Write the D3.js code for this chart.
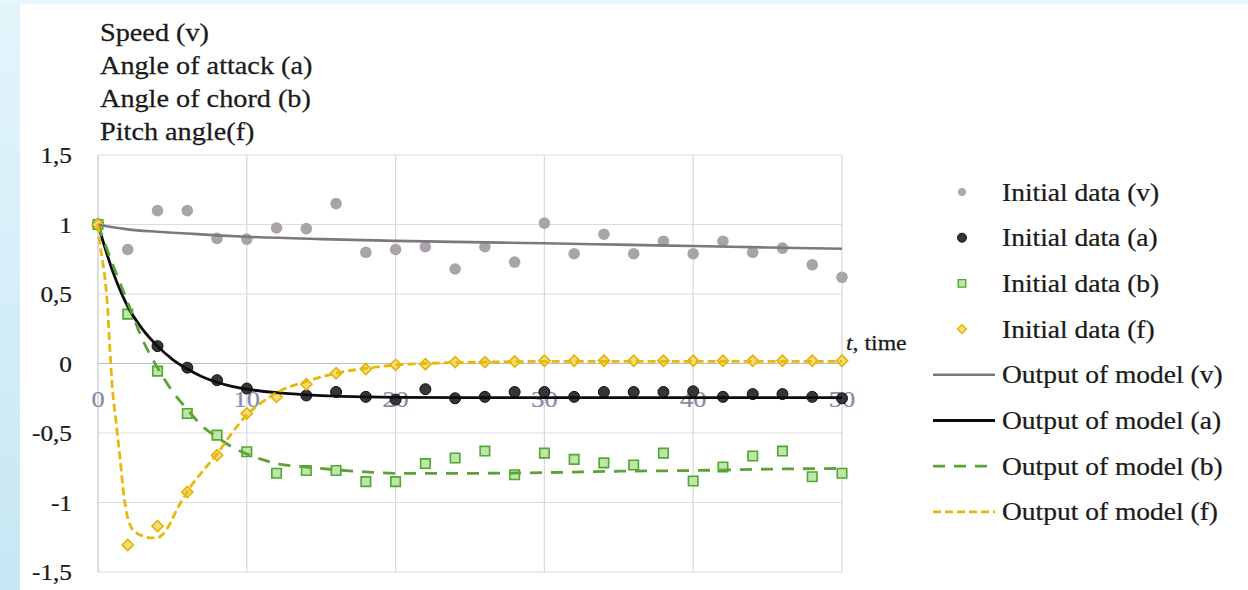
<!DOCTYPE html>
<html>
<head>
<meta charset="utf-8">
<script src="https://cdn.jsdelivr.net/npm/d3@7"></script>
<style>
  html, body { margin: 0; padding: 0; background: #ffffff; }
  svg { display: block; }
</style>
</head>
<body>
<svg id="chart" width="1248" height="590"></svg>
<script>
// ---- measured series (time step 2) ----
const times = [0, 2, 4, 6, 8, 10, 12, 14, 16, 18, 20, 22, 24, 26, 28, 30, 32, 34, 36, 38, 40, 42, 44, 46, 48, 50];

const dataV = [1.0, 0.82, 1.10, 1.10, 0.90, 0.895, 0.975, 0.97, 1.15, 0.80, 0.82, 0.84, 0.68, 0.84, 0.73, 1.01, 0.79, 0.93, 0.79, 0.88, 0.79, 0.88, 0.80, 0.83, 0.71, 0.62];
const dataA = [1.0, null, 0.125, -0.03, -0.12, -0.18, null, -0.23, -0.205, -0.24, -0.26, -0.185, -0.25, -0.24, -0.205, -0.205, -0.24, -0.205, -0.205, -0.205, -0.20, -0.24, -0.22, -0.22, -0.24, -0.25];
const dataB = [1.0, 0.355, -0.055, -0.36, -0.515, -0.635, -0.79, -0.77, -0.77, -0.85, -0.85, -0.72, -0.68, -0.63, -0.80, -0.645, -0.69, -0.715, -0.73, -0.645, -0.845, -0.745, -0.665, -0.63, -0.815, -0.79];
const dataF = [1.0, -1.305, -1.17, -0.925, -0.66, -0.36, -0.24, -0.15, -0.07, -0.04, -0.01, -0.005, 0.01, 0.01, 0.015, 0.02, 0.02, 0.02, 0.02, 0.02, 0.02, 0.02, 0.02, 0.02, 0.02, 0.02];

// ---- model output curves ----
const modelTimeV = [0, 1, 2, 4, 6, 8, 10, 15, 20, 25, 30, 35, 40, 45, 50];
const modelV     = [1.0, 0.98, 0.965, 0.948, 0.935, 0.922, 0.912, 0.895, 0.882, 0.873, 0.865, 0.855, 0.845, 0.835, 0.825];

const modelTimeA = [0, 1, 2, 3, 4, 5, 6, 7, 8, 9, 10, 12, 14, 16, 18, 20, 25, 30, 40, 50];
const modelA     = [1.0, 0.66, 0.41, 0.245, 0.125, 0.03, -0.04, -0.095, -0.135, -0.165, -0.185, -0.21, -0.225, -0.235, -0.24, -0.243, -0.245, -0.245, -0.245, -0.245];

const modelTimeB = [0, 1, 2, 3, 4, 5, 6, 7, 8, 9, 10, 11, 12, 14, 16, 18, 20, 25, 30, 35, 40, 45, 50];
const modelB     = [1.0, 0.71, 0.44, 0.17, -0.03, -0.2, -0.33, -0.45, -0.53, -0.6, -0.65, -0.69, -0.72, -0.745, -0.765, -0.78, -0.79, -0.79, -0.785, -0.775, -0.77, -0.76, -0.755];

const modelTimeF = [0, 0.07, 0.3, 0.5, 0.64, 0.75, 0.94, 1.2, 1.48, 1.75, 2.15, 2.6, 3.0, 3.5, 3.95, 4.3, 4.85, 5.3, 5.85, 6.2, 7, 8, 9, 10, 11, 12, 14, 16, 18, 20, 22, 26, 30, 40, 50];
const modelF     = [1.0, 0.92, 0.74, 0.58, 0.41, 0.2, -0.14, -0.41, -0.68, -0.96, -1.16, -1.22, -1.24, -1.255, -1.255, -1.235, -1.15, -1.05, -0.95, -0.89, -0.78, -0.65, -0.5, -0.37, -0.28, -0.21, -0.13, -0.07, -0.035, -0.01, 0.0, 0.01, 0.015, 0.015, 0.015];

// ---- axis ticks and labels ----
const xTicks = [0, 10, 20, 30, 40, 50];
const yTicks = [-1.5, -1, -0.5, 0, 0.5, 1, 1.5];
const yTickLabels = ["-1,5", "-1", "-0,5", "0", "0,5", "1", "1,5"];
const titleLines = ["Speed (v)", "Angle of attack (a)", "Angle of chord (b)", "Pitch angle(f)"];
const legendLabels = ["Initial data (v)", "Initial data (a)", "Initial data (b)", "Initial data (f)",
                      "Output of model (v)", "Output of model (a)", "Output of model (b)", "Output of model (f)"];

// ---- drawing ----
const FONT = "'Liberation Serif', 'Times New Roman', Tinos, serif";
const svg = d3.select("#chart").attr("font-family", FONT);
const W = 1248, H = 590;
const STRETCH = 1.12;   // serif text is drawn slightly wide

const defs = svg.append("defs");
const grad = defs.append("linearGradient").attr("id", "edge").attr("x1", 0).attr("y1", 0).attr("x2", 0).attr("y2", 1);
grad.append("stop").attr("offset", "0%").attr("stop-color", "#e3f5fb");
grad.append("stop").attr("offset", "100%").attr("stop-color", "#c6e7f4");

svg.append("rect").attr("width", W).attr("height", H).attr("fill", "#ffffff");
svg.append("rect").attr("x", 0).attr("y", 0).attr("width", 20).attr("height", H).attr("fill", "url(#edge)");
svg.append("rect").attr("x", 0).attr("y", 0).attr("width", W).attr("height", 4).attr("fill", "#e6f6fc");

const x = d3.scaleLinear().domain([0, 50]).range([98, 842]);
const y = d3.scaleLinear().domain([-1.5, 1.5]).range([572, 155]);

function putText(parent, str, px, py, opts = {}) {
  const fill = opts.fill || "#1a1a1a";
  const t = parent.append("text")
    .attr("transform", `translate(${px},${py}) scale(${opts.stretch || STRETCH},1)`)
    .attr("font-family", FONT)
    .attr("font-size", opts.size || 25)
    .attr("text-anchor", opts.anchor || "start")
    .attr("fill", fill)
    .attr("stroke", fill).attr("stroke-width", 0.25)
    .attr("dy", opts.dy || null)
    .text(str);
  if (opts.opacity) t.attr("opacity", opts.opacity);
  return t;
}

// gridlines
const grid = svg.append("g");
grid.selectAll("line.h").data(yTicks).join("line")
  .attr("x1", x(0)).attr("x2", x(50))
  .attr("y1", d => y(d)).attr("y2", d => y(d))
  .attr("stroke", d => d === 0 ? "#bdbdc4" : "#dcdce0").attr("stroke-width", 1.2);
grid.selectAll("line.v").data(xTicks).join("line")
  .attr("x1", d => x(d)).attr("x2", d => x(d))
  .attr("y1", y(1.5)).attr("y2", y(-1.5))
  .attr("stroke", d => d === 0 ? "#c4c4cc" : "#d8d8e0").attr("stroke-width", 1.2);

// y tick labels
const yLab = svg.append("g");
yTicks.forEach((v, i) => {
  putText(yLab, yTickLabels[i], 72, y(v), { size: 23, anchor: "end", dy: "0.36em", stretch: 1.1 });
});

// x tick labels, drawn beneath the series
const xLab = svg.append("g");
xTicks.forEach(v => {
  putText(xLab, String(v), x(v), y(-0.25), { size: 24, anchor: "middle", dy: "0.36em", stretch: 1.1, fill: "#77749a", opacity: 0.85 });
});

// axis title for time
const tLab = svg.append("text")
  .attr("transform", `translate(846,350) scale(1.08,1)`)
  .attr("font-family", FONT)
  .attr("font-size", 22).attr("fill", "#1a1a1a")
  .attr("stroke", "#1a1a1a").attr("stroke-width", 0.25);
tLab.append("tspan").attr("font-style", "italic").text("t");
tLab.append("tspan").text(", time");

// titles
titleLines.forEach((s, i) => putText(svg, s, 100, 41 + i * 33, { size: 25, stretch: 1.13 }));

// marker helpers
const symSquare = d3.symbol().type(d3.symbolSquare);
const symDiamond = d3.symbol().type(d3.symbolDiamond2);

function pts(vals) {
  return times.map((t, i) => ({ t, v: vals[i] })).filter(d => d.v !== null);
}

const marks = svg.append("g");
marks.selectAll("circle.v").data(pts(dataV)).join("circle")
  .attr("cx", d => x(d.t)).attr("cy", d => y(d.v)).attr("r", 5.8)
  .attr("fill", "#aaa4aa");
marks.selectAll("circle.a").data(pts(dataA)).join("circle")
  .attr("cx", d => x(d.t)).attr("cy", d => y(d.v)).attr("r", 5.5)
  .attr("fill", "#363636").attr("stroke", "#111").attr("stroke-width", 1);
marks.selectAll("path.b").data(pts(dataB)).join("path")
  .attr("d", symSquare.size(90)())
  .attr("transform", d => `translate(${x(d.t)},${y(d.v)})`)
  .attr("fill", "#bfe5aa").attr("stroke", "#4fa82f").attr("stroke-width", 1.6);
marks.selectAll("path.f").data(pts(dataF)).join("path")
  .attr("d", symDiamond.size(80)())
  .attr("transform", d => `translate(${x(d.t)},${y(d.v)})`)
  .attr("fill", "#f6dc7a").attr("stroke", "#e4b300").attr("stroke-width", 1.6);

// model lines
const line = d3.line().x(d => x(d[0])).y(d => y(d[1])).curve(d3.curveMonotoneX);
const models = [
  { t: modelTimeV, v: modelV, color: "#7d7880", dash: null, w: 2.6 },
  { t: modelTimeA, v: modelA, color: "#0d0d0d", dash: null, w: 2.8 },
  { t: modelTimeB, v: modelB, color: "#5ca235", dash: "12,9", w: 2.8 },
  { t: modelTimeF, v: modelF, color: "#e8b80c", dash: "8,4", w: 2.8 }
];
svg.append("g").selectAll("path").data(models).join("path")
  .attr("d", m => line(m.t.map((t, i) => [t, m.v[i]])))
  .attr("fill", "none").attr("stroke", m => m.color)
  .attr("stroke-width", m => m.w).attr("stroke-dasharray", m => m.dash);

// legend
const leg = svg.append("g");
const rowY = i => 192 + i * 45.7;
leg.append("circle").attr("cx", 962).attr("cy", rowY(0)).attr("r", 4).attr("fill", "#aaaaaa");
leg.append("circle").attr("cx", 962).attr("cy", rowY(1)).attr("r", 4.5).attr("fill", "#333").attr("stroke", "#111");
leg.append("path").attr("d", symSquare.size(56)()).attr("transform", `translate(962,${rowY(2)})`)
  .attr("fill", "#bfe5aa").attr("stroke", "#4fa82f").attr("stroke-width", 1.4);
leg.append("path").attr("d", symDiamond.size(50)()).attr("transform", `translate(962,${rowY(3)})`)
  .attr("fill", "#f6dc7a").attr("stroke", "#e4b300").attr("stroke-width", 1.4);
models.forEach((m, i) => {
  leg.append("line").attr("x1", 933).attr("x2", 995)
    .attr("y1", rowY(4 + i)).attr("y2", rowY(4 + i))
    .attr("stroke", m.color).attr("stroke-width", m.w).attr("stroke-dasharray", m.dash);
});
legendLabels.forEach((s, i) => putText(leg, s, 1002, rowY(i), { size: 25, dy: "0.34em", stretch: 1.1 }));
</script>
</body>
</html>
